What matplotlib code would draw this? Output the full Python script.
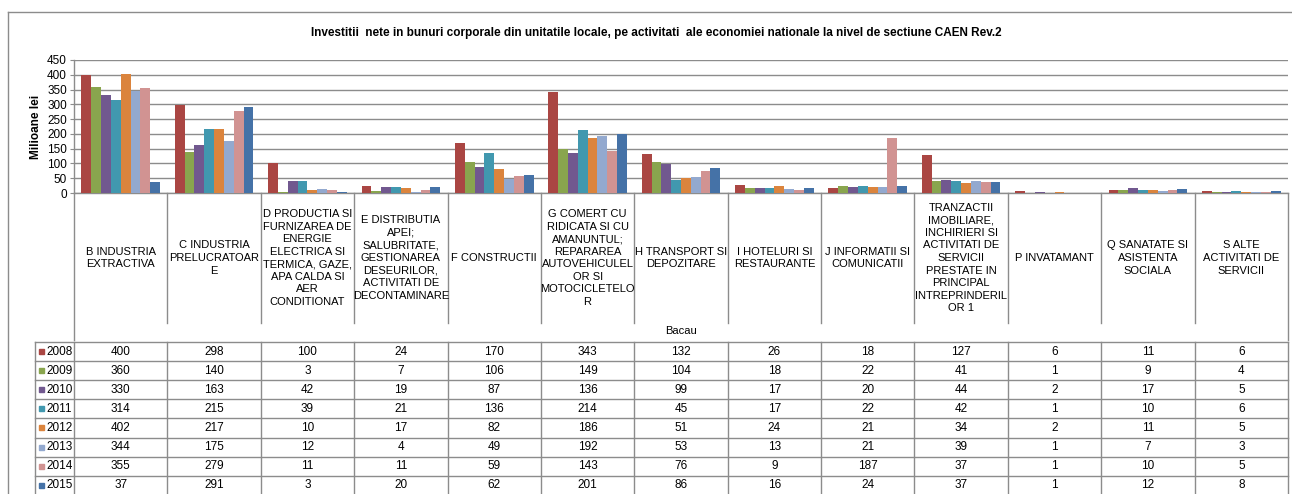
import matplotlib
matplotlib.use("Agg")
import matplotlib.pyplot as plt
from matplotlib.lines import Line2D
from matplotlib.patches import Rectangle
import numpy as np

plt.rcParams['font.family'] = ['Liberation Sans Narrow', 'Liberation Sans', 'DejaVu Sans']

title = ("Investitii  nete in bunuri corporale din unitatile locale, pe activitati  ale economiei "
         "nationale la nivel de sectiune CAEN Rev.2")
categories = [
    "B INDUSTRIA\nEXTRACTIVA",
    "C INDUSTRIA\nPRELUCRATOAR\nE",
    "D PRODUCTIA SI\nFURNIZAREA DE\nENERGIE\nELECTRICA SI\nTERMICA, GAZE,\nAPA CALDA SI\nAER\nCONDITIONAT",
    "E DISTRIBUTIA\nAPEI;\nSALUBRITATE,\nGESTIONAREA\nDESEURILOR,\nACTIVITATI DE\nDECONTAMINARE",
    "F CONSTRUCTII",
    "G COMERT CU\nRIDICATA SI CU\nAMANUNTUL;\nREPARAREA\nAUTOVEHICULEL\nOR SI\nMOTOCICLETELO\nR",
    "H TRANSPORT SI\nDEPOZITARE",
    "I HOTELURI SI\nRESTAURANTE",
    "J INFORMATII SI\nCOMUNICATII",
    "TRANZACTII\nIMOBILIARE,\nINCHIRIERI SI\nACTIVITATI DE\nSERVICII\nPRESTATE IN\nPRINCIPAL\nINTREPRINDERIL\nOR 1",
    "P INVATAMANT",
    "Q SANATATE SI\nASISTENTA\nSOCIALA",
    "S ALTE\nACTIVITATI DE\nSERVICII",
]
years = ["2008", "2009", "2010", "2011", "2012", "2013", "2014", "2015"]
v2008 = [400, 298, 100, 24, 170, 343, 132, 26, 18, 127, 6, 11, 6]
v2009 = [360, 140, 3, 7, 106, 149, 104, 18, 22, 41, 1, 9, 4]
v2010 = [330, 163, 42, 19, 87, 136, 99, 17, 20, 44, 2, 17, 5]
v2011 = [314, 215, 39, 21, 136, 214, 45, 17, 22, 42, 1, 10, 6]
v2012 = [402, 217, 10, 17, 82, 186, 51, 24, 21, 34, 2, 11, 5]
v2013 = [344, 175, 12, 4, 49, 192, 53, 13, 21, 39, 1, 7, 3]
v2014 = [355, 279, 11, 11, 59, 143, 76, 9, 187, 37, 1, 10, 5]
v2015 = [37, 291, 3, 20, 62, 201, 86, 16, 24, 37, 1, 12, 8]
series = [v2008, v2009, v2010, v2011, v2012, v2013, v2014, v2015]
colors = ["#AA4643", "#89A54E", "#71588F", "#4198AF", "#DB843D", "#93A9CF", "#D19392", "#4572A7"]
region = "Bacau"
y_label = "Milioane lei"
yticks = [0, 50, 100, 150, 200, 250, 300, 350, 400, 450]

W, H = 1292, 494
fig = plt.figure(figsize=(W / 100, H / 100), dpi=100)
fig.patch.set_facecolor("white")

def fx(px):
    return px / W

def fy(py):
    return 1 - py / H

L, R, T, B = 74, 1288, 60, 193
ncat = len(categories)
cw = (R - L) / ncat
gridc = "#8C8C8C"

# outer chart border
fig.add_artist(Line2D([fx(8), fx(8)], [fy(12), 0], color="#8C8C8C", lw=1.0))
fig.add_artist(Line2D([fx(8), 1], [fy(12), fy(12)], color="#8C8C8C", lw=1.0))

fig.text(fx(656), fy(33), title, ha="center", va="center", fontsize=8.5, fontweight="bold",
         family=["Liberation Sans", "DejaVu Sans"])

ax = fig.add_axes([fx(L), fy(B), (R - L) / W, (B - T) / H])
x = np.arange(ncat)
nser = len(series)
w = 1 / (nser + 1.5)
for i, (vals, c) in enumerate(zip(series, colors)):
    ax.bar(x + (i - (nser - 1) / 2) * w, vals, w, color=c, zorder=3, linewidth=0)
ax.set_xlim(-0.5, ncat - 0.5)
ax.set_ylim(0, 450)
ax.set_yticks(yticks)
ax.set_yticklabels([str(t) for t in yticks], fontsize=8.5, family=["Liberation Sans", "DejaVu Sans"])
ax.tick_params(axis="y", length=3, color=gridc, pad=2)
ax.set_xticks([])
ax.grid(axis="y", color=gridc, lw=1.0, zorder=0)
for s in ["top", "right"]:
    ax.spines[s].set_visible(False)
for s in ["left", "bottom"]:
    ax.spines[s].set_color(gridc)
    ax.spines[s].set_linewidth(1.0)
ax.set_ylabel(y_label, fontsize=8.5, fontweight="bold", family=["Liberation Sans", "DejaVu Sans"], labelpad=4)

# table / category area axes (x in category units, y in pixels)
tax = fig.add_axes([fx(L), 0, (R - L) / W, fy(B)])
tax.set_xlim(-0.5, ncat - 0.5)
tax.set_ylim(H, B)
tax.axis("off")

def px2cat(px):
    return (px - L) / cw - 0.5

lc = "#8C8C8C"
# category separators
for k in range(ncat + 1):
    y1 = 340 if k in (0, ncat) else 323
    tax.plot([k - 0.5, k - 0.5], [B, y1], color=lc, lw=1.0, clip_on=False)
for k, lab in enumerate(categories):
    tax.text(k, 258, lab, ha="center", va="center", fontsize=8, linespacing=1.32, clip_on=False)
tax.text((ncat - 1) / 2, 331, region, ha="center", va="center", fontsize=8, clip_on=False)

# data table
top = 342
rh = 19.1
xl = px2cat(35)
for r in range(len(years) + 1):
    yy = top + r * rh
    tax.plot([xl, ncat - 0.5], [yy, yy], color=lc, lw=1.0, clip_on=False)
for xv in [xl] + [k - 0.5 for k in range(ncat + 1)]:
    tax.plot([xv, xv], [top, top + len(years) * rh + 2], color=lc, lw=1.0, clip_on=False)
for r, (yr, vals, c) in enumerate(zip(years, series, colors)):
    yc = top + (r + 0.5) * rh
    for k, v in enumerate(vals):
        tax.text(k, yc, str(v), ha="center", va="center", fontsize=8.5, clip_on=False)
    tax.add_patch(Rectangle((px2cat(39), yc - 2.5), 5 / cw, 5, color=c, clip_on=False))
    tax.text(px2cat(46.5), yc, yr, ha="left", va="center", fontsize=8.5, clip_on=False)

fig.savefig("out.png", dpi=100, facecolor="white")
